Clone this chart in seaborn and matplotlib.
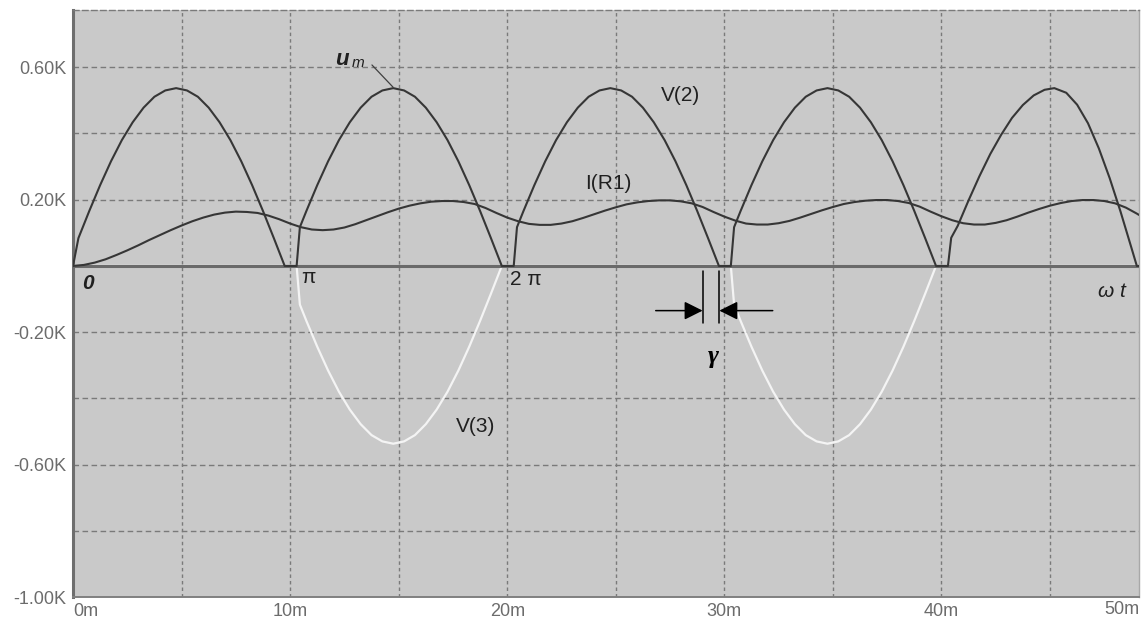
import numpy as np
import pandas as pd
import matplotlib
matplotlib.use("Agg")
import matplotlib.pyplot as plt
import matplotlib.transforms as mtransforms
import seaborn as sns

# ---------------- data (time in ms, values in K) ----------------
t_v2 = [0.00, 0.25, 0.75, 1.25, 1.75, 2.25, 2.75, 3.25, 3.75, 4.25, 4.75,
        5.25, 5.75, 6.25, 6.75, 7.25, 7.75, 8.25, 8.75, 9.25, 9.75,
        10.30, 10.45, 10.75, 11.25, 11.75, 12.25, 12.75, 13.25, 13.75, 14.25, 14.75,
        15.25, 15.75, 16.25, 16.75, 17.25, 17.75, 18.25, 18.75, 19.25, 19.75,
        20.30, 20.45, 20.75, 21.25, 21.75, 22.25, 22.75, 23.25, 23.75, 24.25, 24.75,
        25.25, 25.75, 26.25, 26.75, 27.25, 27.75, 28.25, 28.75, 29.25, 29.75,
        30.30, 30.45, 30.75, 31.25, 31.75, 32.25, 32.75, 33.25, 33.75, 34.25, 34.75,
        35.25, 35.75, 36.25, 36.75, 37.25, 37.75, 38.25, 38.75, 39.25, 39.75,
        40.30, 40.45, 40.75, 41.25, 41.75, 42.25, 42.75, 43.25, 43.75, 44.25, 44.75,
        45.20, 45.75, 46.25, 46.75, 47.25, 47.75, 48.25, 48.75, 49.00, 49.10]
v2 = [0.000, 0.084, 0.166, 0.244, 0.316, 0.380, 0.434, 0.478, 0.511, 0.530, 0.537,
      0.530, 0.511, 0.478, 0.434, 0.380, 0.316, 0.244, 0.166, 0.084, 0.000,
      0.000, 0.117, 0.166, 0.244, 0.316, 0.380, 0.434, 0.478, 0.511, 0.530, 0.537,
      0.530, 0.511, 0.478, 0.434, 0.380, 0.316, 0.244, 0.166, 0.084, 0.000,
      0.000, 0.117, 0.166, 0.244, 0.316, 0.380, 0.434, 0.478, 0.511, 0.530, 0.537,
      0.530, 0.511, 0.478, 0.434, 0.380, 0.316, 0.244, 0.166, 0.084, 0.000,
      0.000, 0.117, 0.166, 0.244, 0.316, 0.380, 0.434, 0.478, 0.511, 0.530, 0.537,
      0.530, 0.511, 0.478, 0.434, 0.380, 0.316, 0.244, 0.166, 0.084, 0.000,
      0.000, 0.085, 0.121, 0.198, 0.271, 0.338, 0.396, 0.447, 0.486, 0.515, 0.532,
      0.537, 0.523, 0.487, 0.431, 0.355, 0.265, 0.164, 0.055, 0.000, 0.000]

t_v3 = [0.00, 10.30, 10.45, 10.75, 11.25, 11.75, 12.25, 12.75, 13.25, 13.75, 14.25, 14.75,
        15.25, 15.75, 16.25, 16.75, 17.25, 17.75, 18.25, 18.75, 19.25, 19.75,
        30.30, 30.45, 30.75, 31.25, 31.75, 32.25, 32.75, 33.25, 33.75, 34.25, 34.75,
        35.25, 35.75, 36.25, 36.75, 37.25, 37.75, 38.25, 38.75, 39.25, 39.75, 49.10]
v3 = [0.000, 0.000, -0.117, -0.166, -0.244, -0.316, -0.380, -0.434, -0.478, -0.511, -0.530, -0.537,
      -0.530, -0.511, -0.478, -0.434, -0.380, -0.316, -0.244, -0.166, -0.084, 0.000,
      0.000, -0.117, -0.166, -0.244, -0.316, -0.380, -0.434, -0.478, -0.511, -0.530, -0.537,
      -0.530, -0.511, -0.478, -0.434, -0.380, -0.316, -0.244, -0.166, -0.084, 0.000, 0.000]

t_i = [0.0, 0.5, 1.0, 1.5, 2.0, 2.5, 3.0, 3.5, 4.0, 4.5, 5.0, 5.5, 6.0, 6.5, 7.0, 7.5, 8.0, 8.5, 9.0, 9.5,
       10.0, 10.5, 11.0, 11.5, 12.0, 12.5, 13.0, 13.5, 14.0, 14.5, 15.0, 15.5, 16.0, 16.5, 17.0, 17.5,
       18.0, 18.5, 19.0, 19.5, 20.0, 20.5, 21.0, 21.5, 22.0, 22.5, 23.0, 23.5, 24.0, 24.5, 25.0, 25.5,
       26.0, 26.5, 27.0, 27.5, 28.0, 28.5, 29.0, 29.5, 30.0, 30.5, 31.0, 31.5, 32.0, 32.5, 33.0, 33.5,
       34.0, 34.5, 35.0, 35.5, 36.0, 36.5, 37.0, 37.5, 38.0, 38.5, 39.0, 39.5, 40.0, 40.5, 41.0, 41.5,
       42.0, 42.5, 43.0, 43.5, 44.0, 44.5, 45.0, 45.5, 46.0, 46.5, 47.0, 47.5, 48.0, 48.5, 49.0, 49.1]
i_r1 = [0.000, 0.003, 0.010, 0.020, 0.033, 0.047, 0.062, 0.078, 0.093, 0.108, 0.122, 0.135, 0.146, 0.155,
        0.161, 0.164, 0.163, 0.160, 0.152, 0.141, 0.128, 0.117, 0.110, 0.108, 0.110, 0.116, 0.126, 0.138,
        0.150, 0.162, 0.173, 0.182, 0.189, 0.194, 0.196, 0.196, 0.193, 0.187, 0.175, 0.160, 0.146, 0.135,
        0.127, 0.124, 0.124, 0.128, 0.135, 0.145, 0.156, 0.167, 0.177, 0.186, 0.192, 0.196, 0.198, 0.198,
        0.195, 0.189, 0.178, 0.163, 0.149, 0.137, 0.128, 0.125, 0.125, 0.129, 0.136, 0.146, 0.157, 0.168,
        0.178, 0.187, 0.193, 0.197, 0.199, 0.199, 0.196, 0.190, 0.179, 0.164, 0.150, 0.138, 0.129, 0.125,
        0.125, 0.130, 0.138, 0.149, 0.161, 0.172, 0.182, 0.190, 0.196, 0.199, 0.199, 0.196, 0.189, 0.176,
        0.158, 0.154]

x_ticks = [0, 5, 10, 15, 20, 25, 30, 35, 40, 45]
x_tick_labels = ['0m', '', '10m', '', '20m', '', '30m', '', '40m', '']
x_end_label = '50m'
y_ticks = [-1.0, -0.8, -0.6, -0.4, -0.2, 0.0, 0.2, 0.4, 0.6]
y_tick_labels = ['-1.00K', '', '-0.60K', '', '-0.20K', '', '0.20K', '', '0.60K']

df_v2 = pd.DataFrame({'t': t_v2, 'v': v2})
df_v3 = pd.DataFrame({'t': t_v3, 'v': v3})
df_i = pd.DataFrame({'t': t_i, 'v': i_r1})

# ---------------- style ----------------
sns.set_theme(style='white')
plt.rcParams['font.family'] = ['Liberation Sans', 'DejaVu Sans']

W, H = 1143, 618
fig = plt.figure(figsize=(W / 100, H / 100), dpi=100)
fig.patch.set_facecolor('white')
ax = fig.add_axes([73 / W, 21 / H, 1066 / W, 587 / H])
ax.set_facecolor('#c9c9c9')

XMAX = 49.1
ax.set_xlim(0, XMAX)
ax.set_ylim(-1.0, 0.773)

grid_c = '#7a7a7a'
ax.set_yticks(y_ticks)
ax.set_yticklabels(y_tick_labels)
ax.set_xticks(x_ticks)
ax.set_xticklabels(x_tick_labels)
ax.yaxis.grid(True, color=grid_c, lw=1.0, linestyle=(0, (4, 2.5)), zorder=1)
ax.xaxis.grid(True, color=grid_c, lw=1.0, linestyle=(0, (2.5, 2.2)), zorder=1)
ax.set_axisbelow(True)
ax.tick_params(axis='both', length=0, labelsize=13, labelcolor='#6c6c6c')
ax.tick_params(axis='y', pad=5)
ax.tick_params(axis='x', pad=4)
ax.get_xticklabels()[0].set_horizontalalignment('left')

trans = mtransforms.blended_transform_factory(ax.transData, ax.transAxes)
ax.text(XMAX, -0.0075, x_end_label, transform=trans, ha='right', va='top',
        fontsize=13, color='#6c6c6c')

# spines
ax.spines['left'].set_color('#6e6e6e')
ax.spines['left'].set_linewidth(2.2)
ax.spines['bottom'].set_color('#808080')
ax.spines['bottom'].set_linewidth(1.4)
ax.spines['right'].set_color('#a8a8a8')
ax.spines['right'].set_linewidth(1.0)
ax.spines['top'].set_color(grid_c)
ax.spines['top'].set_linewidth(1.0)
ax.spines['top'].set_linestyle((0, (4, 2.5)))

# ---------------- traces ----------------
sns.lineplot(data=df_v3, x='t', y='v', ax=ax, color='#f4f4f4', lw=1.6,
             sort=False, estimator=None, zorder=3)
ax.axhline(0, color='#6a6a6a', lw=2.2, zorder=4)
sns.lineplot(data=df_v2, x='t', y='v', ax=ax, color='#363636', lw=1.5,
             sort=False, estimator=None, zorder=5)
sns.lineplot(data=df_i, x='t', y='v', ax=ax, color='#363636', lw=1.5,
             sort=False, estimator=None, zorder=5)
ax.set_xlabel('')
ax.set_ylabel('')

# ---------------- annotations ----------------
txt_c = '#202020'
ax.text(12.39, 0.622, 'u', fontsize=16, fontweight='bold', style='italic',
        ha='center', va='center', color=txt_c, zorder=6)
ax.text(13.13, 0.614, 'm', fontsize=11, style='italic',
        ha='center', va='center', color=txt_c, zorder=6)
ax.plot([13.77, 14.74], [0.607, 0.540], color='#404040', lw=0.9, zorder=6)

ax.text(28.0, 0.516, 'V(2)', fontsize=15, ha='center', va='center', color=txt_c, zorder=6)
ax.text(24.64, 0.248, 'I(R1)', fontsize=15, ha='center', va='center', color=txt_c, zorder=6)
ax.text(18.56, -0.486, 'V(3)', fontsize=15, ha='center', va='center', color=txt_c, zorder=6)
ax.text(0.69, -0.054, '0', fontsize=15, style='italic', fontweight='bold',
        ha='center', va='center', color=txt_c, zorder=6)
ax.text(10.82, -0.036, 'π', fontsize=15, ha='center', va='center', color=txt_c, zorder=6)
ax.text(20.87, -0.042, '2 π', fontsize=15, ha='center', va='center', color=txt_c, zorder=6)
ax.text(47.86, -0.078, 'ω t', fontsize=15, style='italic',
        ha='center', va='center', color=txt_c, zorder=6)
ax.text(29.48, -0.275, 'γ', fontsize=19, fontweight='bold', style='italic',
        family=['Liberation Serif', 'DejaVu Serif'],
        ha='center', va='center', color='black', zorder=6)

# gamma markers
ax.plot([29.0, 29.0], [-0.015, -0.172], color='black', lw=1.1, zorder=6)
ax.plot([29.77, 29.77], [-0.015, -0.172], color='black', lw=1.1, zorder=6)
arrow_style = '-|>,head_length=0.8,head_width=0.4'
ax.annotate('', xy=(29.0, -0.135), xytext=(26.84, -0.135),
            arrowprops=dict(arrowstyle=arrow_style, mutation_scale=14, color='black',
                            lw=1.1, shrinkA=0, shrinkB=0), zorder=6)
ax.annotate('', xy=(29.77, -0.135), xytext=(32.23, -0.135),
            arrowprops=dict(arrowstyle=arrow_style, mutation_scale=14, color='black',
                            lw=1.1, shrinkA=0, shrinkB=0), zorder=6)

fig.savefig('out.png', dpi=100, facecolor='white')
